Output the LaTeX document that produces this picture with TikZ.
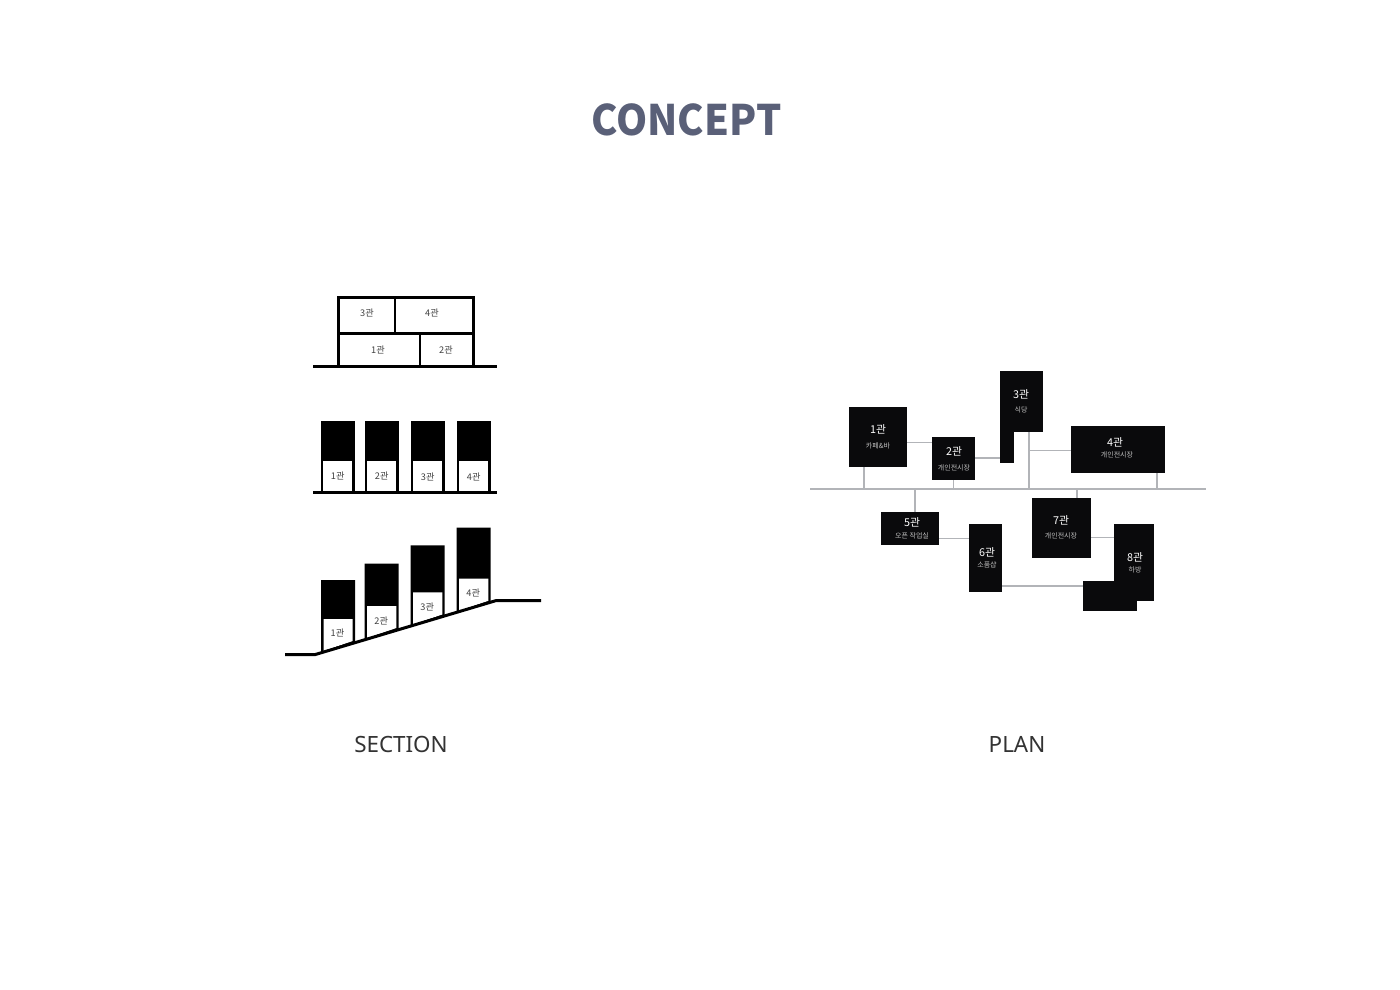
\documentclass[tikz,border=0pt]{standalone}
\usepackage{graphicx}
\usepackage{fontspec}
\setmainfont{Noto Sans CJK KR}
\newfontfamily\captionfont{Noto Sans}
\definecolor{titleblue}{HTML}{5A6078}
\definecolor{hallblack}{HTML}{0A0A0C}
\definecolor{linkgray}{HTML}{B2B4B8}
\tikzset{
	hall/.style={fill=hallblack, inner sep=0pt, outer sep=0pt},
	hallname/.style={text=white, font=\fontsize{5.4}{6}\selectfont, inner sep=0pt},
	hallsub/.style={text=black!25, font=\fontsize{3.5}{4}\selectfont, inner sep=0pt},
	link/.style={draw=linkgray, line width=0.75pt},
	wall/.style={draw=black, line width=1.5pt},
	roomtext/.style={text=black!75, font=\fontsize{4.6}{5}\selectfont, inner sep=0pt},
	caption/.style={text=black!80, font=\captionfont\fontsize{11.2}{13}\selectfont, inner sep=0pt}
}
\begin{document}
\begin{tikzpicture}[x=0.5pt, y=-0.5pt, line join=miter]
	\useasboundingbox (0,0) rectangle (1400,989);
	\fill[white] (0,0) rectangle (1400,989);

	% Title and captions
	\node[text=titleblue, font=\bfseries\fontsize{21}{24}\selectfont, inner sep=0pt] (title) at (686.5,120) {\scalebox{0.945}[1]{CONCEPT}};
	\node[caption] (sectionname) at (401,744) {SECTION};
	\node[caption] (planname) at (1017,744) {PLAN};

	% Section: stacked building
	\draw[wall] (338.2,367) -- (338.2,297.5) -- (473.5,297.5) -- (473.5,367);
	\draw[wall] (338.2,333.7) -- (473.5,333.7);
	\draw[line width=1pt] (394.6,297.5) -- (394.6,333.7);
	\draw[line width=1pt] (420.2,333.7) -- (420.2,367);
	\draw[wall] (313,366.7) -- (497,366.7);
	\node[roomtext] (top3) at (367,313) {3관};
	\node[roomtext] (top4) at (432,313) {4관};
	\node[roomtext] (top1) at (378,350) {1관};
	\node[roomtext] (top2) at (446,350) {2관};

	% Section: row on flat ground
	\foreach \xa/\n/\ty in {320.7/1/476, 364.7/2/476, 410.7/3/477, 456.7/4/477}{
		\fill[black] (\xa,421) rectangle (\xa+34,493);
		\fill[white] (\xa+2.5,461) rectangle (\xa+31.7,491);
		\node[roomtext] (flat\n) at (\xa+17,\ty) {\n{}관};
	}
	\draw[wall] (313,492.8) -- (497,492.8);

	% Section: row on the slope
	\foreach \xa/\ya/\yb/\yc/\yd/\n/\ty in {321/580/619/652/642/1/633, 364.7/563.7/606/639/629/2/621, 410.7/545.3/592.3/625.4/615.5/3/607, 456.7/527.7/578.7/611.8/601.8/4/593}{
		\fill[black] (\xa,\ya) -- (\xa+34,\ya) -- (\xa+34,\yd) -- (\xa,\yc) -- cycle;
		\fill[white] (\xa+2.5,\yb) -- (\xa+31.7,\yb) -- (\xa+31.7,\yd-1) -- (\xa+2.5,\yc-1) -- cycle;
		\node[roomtext] (slope\n) at (\xa+16.5,\ty) {\n{}관};
	}
	\draw[wall] (285,654.6) -- (315,654.6) -- (496,600.6) -- (541,600.6);

	% Plan: halls
	\node[hall, minimum width=29pt, minimum height=30pt] (hall1) at (878,437) {};
	\node[hall, minimum width=21.5pt, minimum height=21.5pt] (hall2) at (953.5,458.5) {};
	\node[hall, minimum width=21.5pt, minimum height=30.5pt] (hall3) at (1021.5,401.5) {};
	\node[hall, minimum width=7pt, minimum height=15.5pt, anchor=north west] (hall3b) at (hall3.south west) {};
	\node[hall, minimum width=47pt, minimum height=23.5pt] (hall4) at (1118,449.5) {};
	\node[hall, minimum width=29pt, minimum height=16.5pt] (hall5) at (910,528.5) {};
	\node[hall, minimum width=16.5pt, minimum height=34pt] (hall6) at (985.5,558) {};
	\node[hall, minimum width=29.5pt, minimum height=30pt] (hall7) at (1061.5,528) {};
	\node[hall, minimum width=20pt, minimum height=38.5pt] (hall8) at (1134,562.5) {};
	\node[hall, minimum width=27pt, minimum height=15pt] (hall8b) at (1110,596) {};

	% Plan: corridor and branches
	\coordinate (mainw) at (810,489);
	\coordinate (maine) at (1206,489);
	\draw[link] (mainw) -- (maine);
	\draw[link] (hall1.south -| 864,0) -- (864,0 |- mainw);
	\draw[link] (hall2.south) -- (hall2.south |- mainw);
	\draw[link] (hall3.south -| 1029,0) -- (1029,0 |- mainw);
	\draw[link] (hall4.south -| 1157,0) -- (1157,0 |- mainw);
	\draw[link] (hall5.north -| 915,0) -- (915,0 |- mainw);
	\draw[link] (hall7.north -| 1077,0) -- (1077,0 |- mainw);
	\draw[link] (hall1.east |- 0,442.7) -- (hall2.west |- 0,442.7);
	\draw[link] (hall2.east |- 0,458) -- (hall3b.west |- 0,458);
	\draw[link] (1029,450.5) -- (hall4.west |- 0,450.5);
	\draw[link] (hall5.east |- 0,538.5) -- (hall6.west |- 0,538.5);
	\draw[link] (hall7.east |- 0,537.5) -- (hall8.west |- 0,537.5);
	\draw[link] (hall6.east |- 0,586) -- (hall8b.west |- 0,586);

	% Plan: hall labels
	\node[hallname] (name1) at (878,429) {1관};
	\node[hallsub] (sub1) at (878,446) {카페\&바};
	\node[hallname] (name2) at (954,451) {2관};
	\node[hallsub] (sub2) at (954,467.5) {개인전시장};
	\node[hallname] (name3) at (1021,394.5) {3관};
	\node[hallsub] (sub3) at (1021,410) {식당};
	\node[hallname] (name4) at (1115,442) {4관};
	\node[hallsub] (sub4) at (1117,455) {개인전시장};
	\node[hallname] (name5) at (912,522) {5관};
	\node[hallsub] (sub5) at (912,536) {오픈 작업실};
	\node[hallname] (name6) at (987,552.5) {6관};
	\node[hallsub] (sub6) at (987,565) {소품샵};
	\node[hallname] (name7) at (1061,520) {7관};
	\node[hallsub] (sub7) at (1061,536) {개인전시장};
	\node[hallname] (name8) at (1135,557) {8관};
	\node[hallsub] (sub8) at (1135,570) {하방};
\end{tikzpicture}
\end{document}
